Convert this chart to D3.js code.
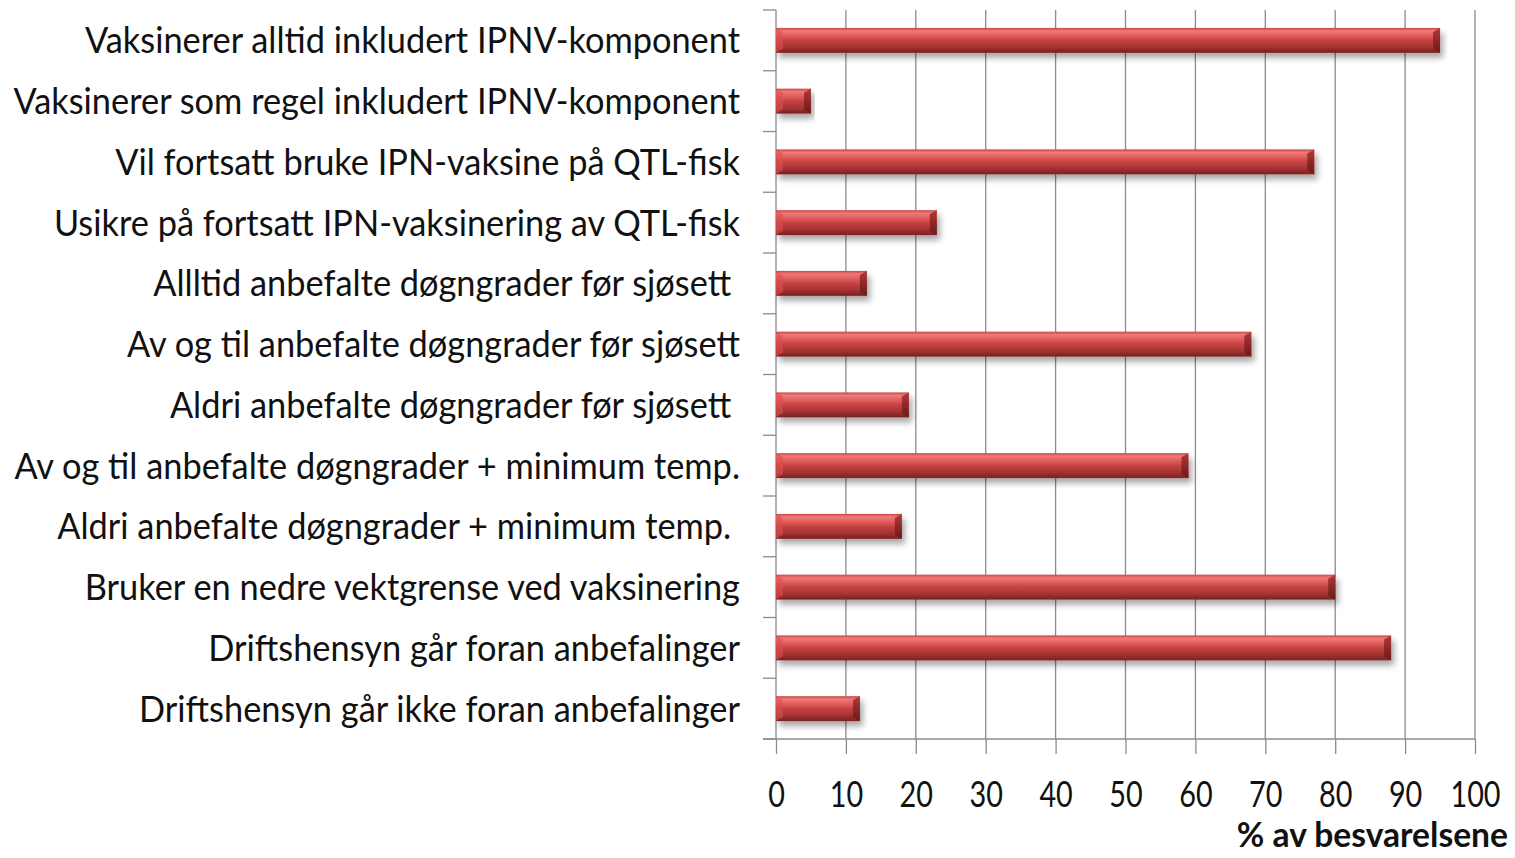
<!DOCTYPE html>
<html><head><meta charset="utf-8">
<script src="https://cdn.jsdelivr.net/npm/d3@7"></script>
<style>body{margin:0;background:#fff}svg{display:block}</style>
</head><body>
<script>
const categories = [
  "Vaksinerer alltid inkludert IPNV-komponent",
  "Vaksinerer som regel inkludert IPNV-komponent",
  "Vil fortsatt bruke IPN-vaksine på QTL-fisk",
  "Usikre på fortsatt IPN-vaksinering av QTL-fisk",
  "Allltid anbefalte døgngrader før sjøsett\u00A0",
  "Av og til anbefalte døgngrader før sjøsett",
  "Aldri anbefalte døgngrader før sjøsett\u00A0",
  "Av og til anbefalte døgngrader + minimum temp.",
  "Aldri anbefalte døgngrader + minimum temp.\u00A0",
  "Bruker en nedre vektgrense ved vaksinering",
  "Driftshensyn går foran anbefalinger",
  "Driftshensyn går ikke foran anbefalinger"
];
const values = [95, 5, 77, 23, 13, 68, 19, 59, 18, 80, 88, 12];
const xTicks = [0, 10, 20, 30, 40, 50, 60, 70, 80, 90, 100];
const xTitle = "% av besvarelsene";

const W = 1515, H = 858;
const svg = d3.select("body").append("svg").attr("width", W).attr("height", H);
const defs = svg.append("defs");
const g1 = defs.append("linearGradient").attr("id","barGrad").attr("x1",0).attr("x2",0).attr("y1",0).attr("y2",1);
[[0,"#c94545"],[0.12,"#f07a78"],[0.28,"#e46262"],[0.5,"#c84242"],[0.75,"#a83434"],[1,"#7a2020"]]
  .forEach(([o,c])=>g1.append("stop").attr("offset",o).attr("stop-color",c));
const g2 = defs.append("linearGradient").attr("id","capGrad").attr("x1",0).attr("x2",0).attr("y1",0).attr("y2",1);
[[0,"#b23a3a"],[0.5,"#8e2828"],[1,"#6a1a1a"]].forEach(([o,c])=>g2.append("stop").attr("offset",o).attr("stop-color",c));
const f = defs.append("filter").attr("id","shadow").attr("x","-5%").attr("y","-30%").attr("width","115%").attr("height","190%");
f.append("feGaussianBlur").attr("in","SourceAlpha").attr("stdDeviation",3);
f.append("feOffset").attr("dx",3).attr("dy",5).attr("result","ob");
f.append("feComponentTransfer").append("feFuncA").attr("type","linear").attr("slope",0.35);
const fm = f.append("feMerge"); fm.append("feMergeNode"); fm.append("feMergeNode").attr("in","SourceGraphic");

const x = d3.scaleLinear().domain([0,100]).range([776,1475]);
const y = d3.scaleBand().domain(categories).range([10,739]).paddingInner(0.59).paddingOuter(0.295);

const gridColor = "#8c8c8c";
svg.append("g").selectAll("line").data(xTicks.slice(1)).join("line")
  .attr("x1",d=>x(d)).attr("x2",d=>x(d)).attr("y1",10).attr("y2",739)
  .attr("stroke",gridColor).attr("stroke-width",1.3);

const xAxis = svg.append("g").attr("transform","translate(0,739)")
  .call(d3.axisBottom(x).tickValues(xTicks).tickSize(15).tickPadding(27).tickFormat(d3.format("d")));
xAxis.select(".domain").remove();
xAxis.selectAll(".tick line").attr("stroke",gridColor).attr("stroke-width",1.3);
xAxis.selectAll(".tick text").attr("font-family","'Lato', sans-serif").attr("font-size",36)
  .attr("fill","#111").attr("transform","scale(0.8,1)");
svg.append("line").attr("x1",763).attr("x2",1475).attr("y1",739).attr("y2",739).attr("stroke",gridColor).attr("stroke-width",1.3);

svg.append("line").attr("x1",776).attr("x2",776).attr("y1",10).attr("y2",739).attr("stroke",gridColor).attr("stroke-width",1.3);
const bounds = categories.map(c=>y(c)-y.step()*y.paddingInner()/2).concat([739]);
svg.append("g").selectAll("line").data(bounds).join("line")
  .attr("x1",763).attr("x2",776).attr("y1",d=>d).attr("y2",d=>d).attr("stroke",gridColor).attr("stroke-width",1.3);

const bars = svg.append("g").selectAll("g").data(categories).join("g").attr("filter","url(#shadow)");
bars.append("rect").attr("x",x(0)).attr("y",d=>y(d)).attr("height",y.bandwidth())
  .attr("width",(d,i)=>x(values[i])-x(0)).attr("fill","url(#barGrad)");
bars.append("path").attr("d",(d,i)=>{
  const x1=x(values[i]), y0=y(d), h=y.bandwidth(), c=7;
  return `M${x1},${y0} L${x1},${y0+h} L${x1-c},${y0+h-c*0.6} L${x1-c},${y0+c*0.6} Z`;
}).attr("fill","url(#capGrad)");
bars.append("path").attr("d",(d,i)=>{
  const x0=x(0), y0=y(d), h=y.bandwidth(), c=7;
  return `M${x0},${y0} L${x0+c},${y0+c*0.6} L${x0+c},${y0+h-c*0.6} L${x0},${y0+h} Z`;
}).attr("fill","#d85050").attr("opacity",0.6);

svg.append("g").selectAll("text").data(categories).join("text")
  .attr("transform",d=>`translate(740,${y(d)+y.bandwidth()/2}) scale(0.955,1)`)
  .attr("text-anchor","end").attr("dy","0.36em")
  .attr("font-family","'Lato', sans-serif").attr("font-size",36).attr("fill","#111")
  .style("white-space","pre")
  .text(d=>d);

svg.append("text").attr("transform","translate(1508,847) scale(0.96,1)").attr("text-anchor","end")
  .attr("font-family","'Lato', sans-serif").attr("font-size",35).attr("font-weight","bold").attr("fill","#111")
  .text(xTitle);
</script>
</body></html>
